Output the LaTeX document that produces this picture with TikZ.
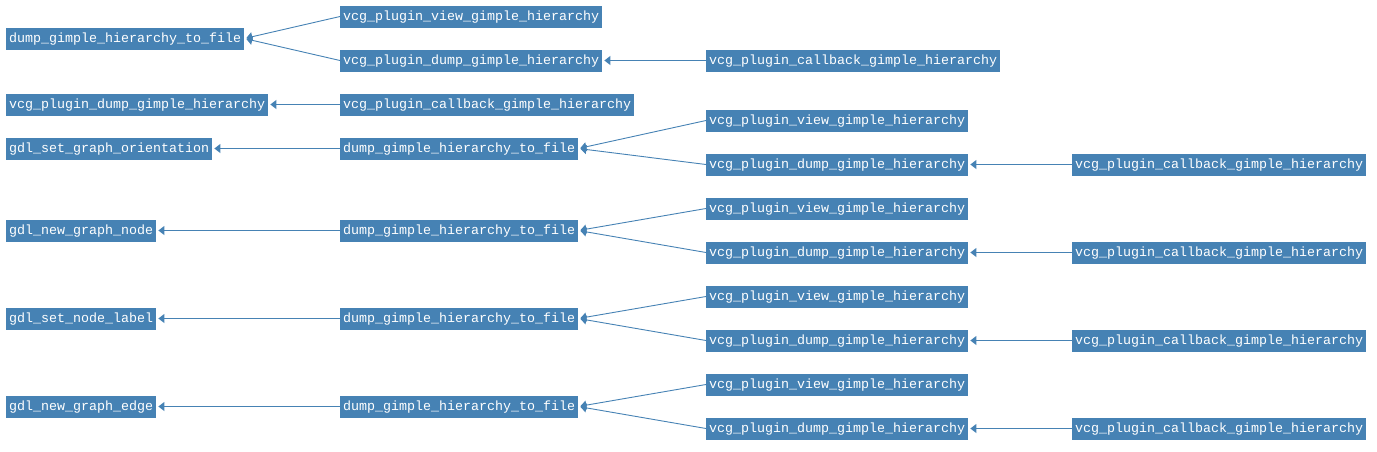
\documentclass[tikz,border=0pt]{standalone}
\usepackage{fontspec}
\setmonofont{Liberation Mono}
\usepackage{xcolor}
\usetikzlibrary{arrows.meta,positioning}
\definecolor{fnblue}{RGB}{70,130,180}

\tikzset{
  fn/.style={fill=fnblue, text=white, anchor=west,
    font=\ttfamily\fontsize{13.33}{16}\selectfont,
    inner xsep=3pt, inner ysep=0pt, minimum height=22pt,
    text height=10pt, text depth=3pt},
  call/.style={draw=fnblue, line width=0.9pt, shorten >=2pt,
    -{Triangle[length=6pt,width=9pt]}}
}

\begin{document}
\begin{tikzpicture}[x=1pt,y=-1pt]
  \useasboundingbox (0,0) rectangle (1377,451);

  % dump_gimple_hierarchy_to_file
  \node[fn] (dtf) at (6,38.5) {dump\_gimple\_hierarchy\_to\_file};
  \node[fn] (view) at (340,16.5) {vcg\_plugin\_view\_gimple\_hierarchy};
  \node[fn] (dump) at (340,60.5) {vcg\_plugin\_dump\_gimple\_hierarchy};
  \node[fn] (cb) at (706,60.5) {vcg\_plugin\_callback\_gimple\_hierarchy};
  \draw[call] (view.west) -- (dtf.east);
  \draw[call] (dump.west) -- (dtf.east);
  \draw[call] (cb.west) -- (dump.east);

  % vcg_plugin_dump_gimple_hierarchy
  \node[fn] (vdump) at (6,104.5) {vcg\_plugin\_dump\_gimple\_hierarchy};
  \node[fn] (vcb) at (340,104.5) {vcg\_plugin\_callback\_gimple\_hierarchy};
  \draw[call] (vcb.west) -- (vdump.east);

  % gdl functions, each called from dump_gimple_hierarchy_to_file
  \foreach \i/\fname/\y/\vy/\dy in {
    1/gdl\_set\_graph\_orientation/148.5/120.5/164.5,
    2/gdl\_new\_graph\_node/230.5/208.5/252.5,
    3/gdl\_set\_node\_label/318.5/296.5/340.5,
    4/gdl\_new\_graph\_edge/406.5/384.5/428.5} {
    \node[fn] (gdl\i) at (6,\y) {\fname};
    \node[fn] (dtf\i) at (340,\y) {dump\_gimple\_hierarchy\_to\_file};
    \node[fn] (view\i) at (706,\vy) {vcg\_plugin\_view\_gimple\_hierarchy};
    \node[fn] (dump\i) at (706,\dy) {vcg\_plugin\_dump\_gimple\_hierarchy};
    \node[fn] (cb\i) at (1072,\dy) {vcg\_plugin\_callback\_gimple\_hierarchy};
    \draw[call] (dtf\i.west) -- (gdl\i.east);
    \draw[call] (view\i.west) -- (dtf\i.east);
    \draw[call] (dump\i.west) -- (dtf\i.east);
    \draw[call] (cb\i.west) -- (dump\i.east);
  }
\end{tikzpicture}
\end{document}
